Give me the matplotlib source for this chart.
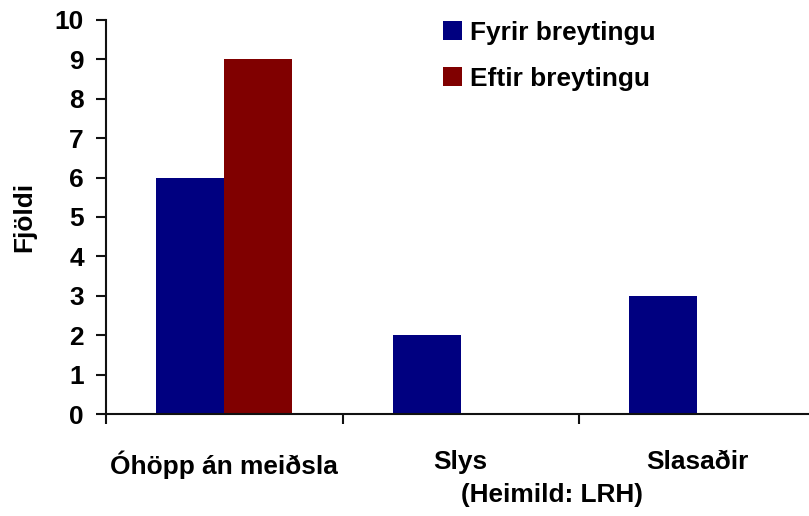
import matplotlib
matplotlib.use("Agg")
import matplotlib.pyplot as plt
import numpy as np

categories = ["Óhöpp án meiðsla", "Slys", "Slasaðir"]
fyrir = [6, 2, 3]
eftir = [9, 0, 0]
series_labels = ["Fyrir breytingu", "Eftir breytingu"]
yticks = list(range(0, 11))

plt.rcParams['font.family'] = ['Liberation Sans', 'DejaVu Sans']
plt.rcParams['font.weight'] = 'bold'
FS = 18.9

W, H = 809, 516
fig = plt.figure(figsize=(W / 100, H / 100), dpi=100)
x0, x1 = 106, 815.5
y0, y1 = 414, 20
ax = fig.add_axes([x0 / W, 1 - y0 / H, (x1 - x0) / W, (y0 - y1) / H])

x = np.arange(len(categories))
bw = 0.287
ax.bar(x - bw / 2, fyrir, bw, color="#000080", label=series_labels[0])
ax.bar(x + bw / 2, eftir, bw, color="#800000", label=series_labels[1])

ax.set_xlim(-0.5, len(categories) - 0.5)
ax.set_ylim(0, 10)
ax.set_yticks(yticks)
ax.set_yticklabels([str(t) for t in yticks], fontsize=FS, fontweight='bold')
ax.set_xticks(x)
ax.set_xticklabels(categories, fontsize=FS, fontweight='bold')
ax.set_xticks(np.arange(len(categories) + 1) - 0.5, minor=True)

for s in ['top', 'right']:
    ax.spines[s].set_visible(False)
for s in ['left', 'bottom']:
    ax.spines[s].set_linewidth(1.5)
    ax.spines[s].set_color('#111111')

ax.tick_params(axis='y', direction='out', length=7, width=1.5, pad=9, color='#111111')
ax.tick_params(axis='x', which='major', length=0, pad=26)
ax.tick_params(axis='x', which='minor', direction='out', length=7, width=1.5, color='#111111')

ax.set_ylabel("Fjöldi", fontsize=FS, fontweight='bold')
ax.yaxis.set_label_coords(-(x0 - 36) / (x1 - x0), 0.5)
ax.set_xlabel("(Heimild: LRH)", fontsize=FS, fontweight='bold')
ax.xaxis.set_label_coords((552 - x0) / (x1 - x0), -(495 - y0) / (y0 - y1))
ax.xaxis.label.set_va('center')

leg = ax.legend(loc='upper left', bbox_to_anchor=(443 / W, 1 - 21 / H),
                bbox_transform=fig.transFigure, frameon=False,
                prop={'size': FS, 'weight': 'bold'},
                handlelength=0.73, handleheight=0.73, handletextpad=0.3,
                labelspacing=0.83, borderpad=0, borderaxespad=0)

fig.savefig("out.png", dpi=100)
